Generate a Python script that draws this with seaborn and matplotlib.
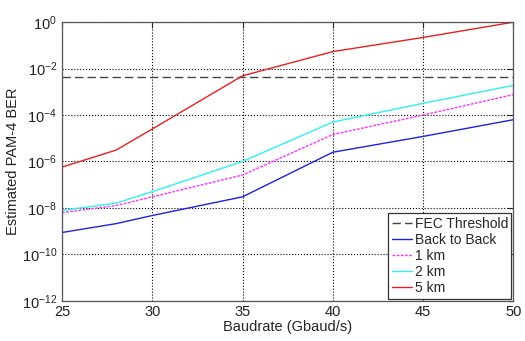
import numpy as np
import pandas as pd
import matplotlib
matplotlib.use('Agg')
import matplotlib.pyplot as plt
import seaborn as sns
from matplotlib.ticker import LogLocator, LogFormatterMathtext, NullLocator

# Data
baudrate = [25, 28, 30, 35, 40, 45, 50]
ber_b2b = [8.7e-10, 2.1e-9, 4.7e-9, 3.0e-8, 2.5e-6, 1.2e-5, 6.3e-5]
ber_1km = [6.3e-9, 1.26e-8, 3.0e-8, 2.6e-7, 1.45e-5, 1.0e-4, 7.6e-4]
ber_2km = [7.8e-9, 1.6e-8, 5.0e-8, 1.0e-6, 5.0e-5, 3.2e-4, 1.9e-3]
ber_5km = [5.7e-7, 3.1e-6, 2.5e-5, 4.9e-3, 5.4e-2, 2.2e-1, 1.0]
fec_threshold = 4.2e-3

series = ['Back to Back', '1 km', '2 km', '5 km']
df = pd.DataFrame({
    'Baudrate': baudrate * 4,
    'BER': ber_b2b + ber_1km + ber_2km + ber_5km,
    'Case': [s for s in series for _ in baudrate],
})

sns.set_style('white')
plt.rcParams['font.family'] = ['Liberation Sans', 'DejaVu Sans']
plt.rcParams['mathtext.fontset'] = 'custom'
plt.rcParams['mathtext.rm'] = 'Liberation Sans'

fig, ax = plt.subplots(figsize=(5.25, 3.41), dpi=100)
fig.subplots_adjust(left=0.118, right=0.978, top=0.935, bottom=0.118)

# FEC threshold first so it sits at the top of the legend
ax.axhline(fec_threshold, color='#444444', linestyle=(0, (6, 3)), linewidth=1.0,
           label='FEC Threshold')

colors = {'Back to Back': '#2020e0', '1 km': '#ff30ff', '2 km': '#30f0f0', '5 km': '#e82020'}
sns.lineplot(data=df, x='Baudrate', y='BER', hue='Case', style='Case',
             palette=colors, dashes={'Back to Back': '', '1 km': (2, 1), '2 km': '', '5 km': ''},
             linewidth=1.0, ax=ax)

ax.set_yscale('log')
ax.set_xlim(25, 50)
ax.set_ylim(1e-12, 1)
ax.set_xticks([25, 30, 35, 40, 45, 50])
ax.yaxis.set_major_locator(LogLocator(base=100))
ax.yaxis.set_major_formatter(LogFormatterMathtext(base=10))
ax.yaxis.set_minor_locator(NullLocator())

ax.grid(True, color='black', linestyle=':', linewidth=0.8)
ax.tick_params(direction='in', length=4, top=True, right=True, labelsize=10.5,
               colors='#222222')
ax.tick_params(axis='x', pad=3)
for sp in ax.spines.values():
    sp.set_color('#555555')
    sp.set_linewidth(0.9)

ax.set_xlabel('Baudrate (Gbaud/s)', fontsize=10.5, labelpad=1)
ax.set_ylabel('Estimated PAM-4 BER', fontsize=10.5, labelpad=1)

leg = ax.legend(loc='lower right', fontsize=10, handlelength=1.5, handletextpad=0.15,
                labelspacing=0.15, borderpad=0.25, borderaxespad=0.15, fancybox=False,
                framealpha=1)
leg.get_frame().set_edgecolor('#333333')
leg.get_frame().set_linewidth(0.9)

fig.savefig('out.png', dpi=100)
